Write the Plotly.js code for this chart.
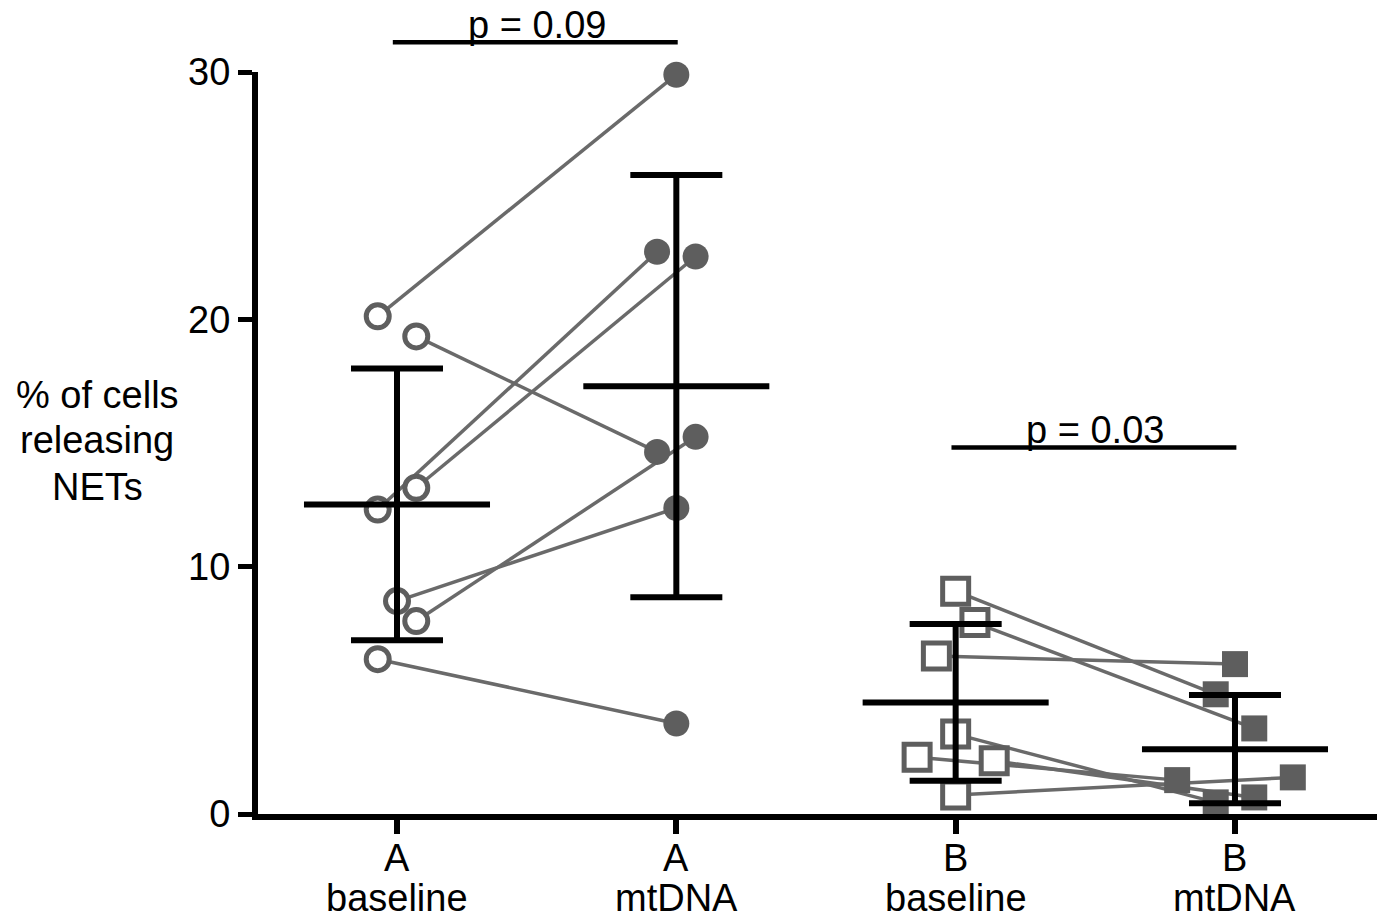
<!DOCTYPE html>
<html>
<head>
<meta charset="utf-8">
<script src="https://cdn.plot.ly/plotly-3.0.1.min.js"></script>
<style>
html,body{margin:0;padding:0;background:#fff;}
#chart{width:1377px;height:921px;}
</style>
</head>
<body>
<div id="chart"></div>
<script>
// ---------------- data ----------------
const groupLabels = ['A', 'A', 'B', 'B'];
const conditionLabels = ['baseline', 'mtDNA', 'baseline', 'mtDNA'];
const yTickVals = [0, 10, 20, 30];
const yTitleLines = ['% of cells', 'releasing', 'NETs'];

// paired values (index k = same subject)
const aBaseline = [20.12, 19.31, 12.31, 13.19, 8.61, 7.80, 6.26];
const aMtDNA    = [29.89, 14.64, 22.73, 22.54, 12.37, 15.25, 3.66];
const bBaseline = [9.01, 7.74, 6.39, 3.23, 2.29, 2.15, 0.77];
const bMtDNA    = [4.84, 3.46, 6.06, 0.47, 1.37, 0.67, 1.48];

// horizontal jitter slots of each point
const aBaselineSlot = [-1, 1, -1, 1, 0, 1, -1];
const aMtDNASlot    = [0, -1, -1, 1, 0, 1, 0];
const bBaselineSlot = [0, 1, -1, 0, -2, 2, 0];
const bMtDNASlot    = [-1, 1, 0, -1, -3, 1, 3];

const pLabels = ['p = 0.09', 'p = 0.03'];
const pBracketY = [31.2, 14.82];
const pPairs = [[0, 1], [2, 3]];

// ---------------- styles ----------------
const Y_RANGE = [0, 30];
const JIT = 0.069;          // x-units per jitter slot
const MEAN_HALF = 0.333;    // half width of mean line (x units)
const GRAY_LINE = '#6a6a6a';
const GRAY_MARK = '#5e5e5e';
const FONT = 'Arial, "Liberation Sans", Helvetica, sans-serif';
const FS = 38;

function mean(a) { return a.reduce((s, v) => s + v, 0) / a.length; }
function sd(a) { const m = mean(a); return Math.sqrt(a.reduce((s, v) => s + (v - m) * (v - m), 0) / (a.length - 1)); }
// y value -> paper fraction (so marks above the axis top are not hidden)
function yPaper(v) { return (v - Y_RANGE[0]) / (Y_RANGE[1] - Y_RANGE[0]); }

function pairLines(base, mt, bSlot, mSlot, i0, i1) {
  const x = [], y = [];
  for (let k = 0; k < base.length; k++) {
    x.push(i0 + bSlot[k] * JIT, i1 + mSlot[k] * JIT, null);
    y.push(base[k], mt[k], null);
  }
  return { type: 'scatter', mode: 'lines', x, y, cliponaxis: false, hoverinfo: 'skip',
           line: { color: GRAY_LINE, width: 3.5 }, showlegend: false };
}
function markers(vals, slots, idx, symbol, open) {
  return {
    type: 'scatter', mode: 'markers', cliponaxis: false, showlegend: false, hoverinfo: 'skip',
    x: vals.map((v, k) => idx + slots[k] * JIT), y: vals,
    marker: open
      ? { symbol, size: symbol === 'square' ? 26 : 23, color: '#ffffff', line: { color: GRAY_MARK, width: 5 } }
      : { symbol, size: 26, color: GRAY_MARK, line: { width: 0 } }
  };
}

const series = [aBaseline, aMtDNA, bBaseline, bMtDNA];
const means = series.map(mean);
const sds = series.map(sd);

const meanX = [], meanY = [];
means.forEach((m, i) => { meanX.push(i - MEAN_HALF, i + MEAN_HALF, null); meanY.push(m, m, null); });

const traces = [
  pairLines(aBaseline, aMtDNA, aBaselineSlot, aMtDNASlot, 0, 1),
  pairLines(bBaseline, bMtDNA, bBaselineSlot, bMtDNASlot, 2, 3),
  markers(aBaseline, aBaselineSlot, 0, 'circle', true),
  markers(aMtDNA, aMtDNASlot, 1, 'circle', false),
  markers(bBaseline, bBaselineSlot, 2, 'square', true),
  markers(bMtDNA, bMtDNASlot, 3, 'square', false),
  { type: 'scatter', mode: 'lines', x: meanX, y: meanY, cliponaxis: false, showlegend: false, hoverinfo: 'skip',
    line: { color: '#000', width: 6 } },
  { type: 'scatter', mode: 'markers', x: [0, 1, 2, 3], y: means, cliponaxis: false, showlegend: false, hoverinfo: 'skip',
    marker: { size: 1, opacity: 0 },
    error_y: { type: 'data', array: sds, visible: true, width: 46, thickness: 6, color: '#000' } }
];

const shapes = pPairs.map((p, j) => ({
  type: 'line', xref: 'x', yref: 'paper', x0: p[0] - 0.015, x1: p[1] + 0.005,
  y0: yPaper(pBracketY[j]), y1: yPaper(pBracketY[j]), line: { color: '#000', width: 4.5 }
}));

const annotations = [];
pLabels.forEach((t, j) => {
  annotations.push({ text: t, xref: 'x', yref: 'paper', x: (pPairs[j][0] + pPairs[j][1]) / 2, y: yPaper(pBracketY[j]),
    xanchor: 'center', yanchor: 'middle', yshift: 17, showarrow: false,
    font: { family: FONT, size: FS, color: '#000' } });
});
groupLabels.forEach((g, i) => {
  annotations.push({ text: g, xref: 'x', yref: 'paper', x: i, y: 0, xanchor: 'center', yanchor: 'middle',
    yshift: -44, showarrow: false, font: { family: FONT, size: FS, color: '#000' } });
  annotations.push({ text: conditionLabels[i], xref: 'x', yref: 'paper', x: i, y: 0, xanchor: 'center', yanchor: 'middle',
    yshift: -84, showarrow: false, font: { family: FONT, size: FS, color: '#000' } });
});
const titleShift = [419, 374, 327];
yTitleLines.forEach((t, j) => {
  annotations.push({ text: t, xref: 'paper', yref: 'paper', x: 0, y: 0, xanchor: 'center', yanchor: 'middle',
    xshift: -161, yshift: titleShift[j], showarrow: false, font: { family: FONT, size: FS, color: '#000' } });
});

const layout = {
  width: 1377, height: 921,
  margin: { l: 258, r: 0, t: 72, b: 107, pad: 0 },
  paper_bgcolor: '#fff', plot_bgcolor: '#fff',
  showlegend: false,
  font: { family: FONT, size: FS, color: '#000' },
  xaxis: {
    range: [-0.4976, 3.5084], showgrid: false, zeroline: false,
    showline: true, linewidth: 6, linecolor: '#000',
    ticks: 'outside', ticklen: 14, tickwidth: 6, tickcolor: '#000',
    tickvals: [0, 1, 2, 3], showticklabels: false, fixedrange: true
  },
  yaxis: {
    range: Y_RANGE, showgrid: false, zeroline: false,
    showline: true, linewidth: 6, linecolor: '#000',
    ticks: 'outside', ticklen: 14, tickwidth: 5, tickcolor: '#000',
    tickvals: yTickVals, ticktext: yTickVals.map(String),
    tickfont: { family: FONT, size: FS, color: '#000' }, fixedrange: true
  },
  shapes,
  annotations
};

Plotly.newPlot('chart', traces, layout, { staticPlot: true, displayModeBar: false });
</script>
</body>
</html>
